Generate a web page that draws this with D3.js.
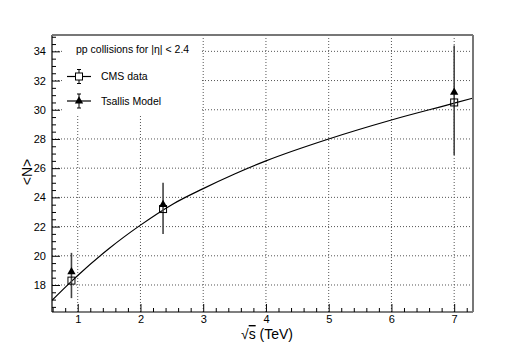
<!DOCTYPE html>
<html>
<head>
<meta charset="utf-8">
<script src="https://cdn.jsdelivr.net/npm/d3@7"></script>
<style>
  body { margin: 0; background: #fff; }
  text { font-family: "Liberation Sans Narrow", "Liberation Sans", Arial, sans-serif; fill: #000; }
</style>
</head>
<body>
<script>
// data
var energies = [0.9, 2.36, 7.0];
var cmsData = [18.3, 23.2, 30.5];
var tsallisModel = [18.9, 23.5, 31.2];
var errLow = [17.1, 21.5, 26.9];
var errHigh = [20.2, 25.0, 34.4];

// fitted curve, sampled by eye
var curveX = [0.59, 0.9, 1.0, 1.5, 2.0, 2.5, 3.0, 3.5, 4.0, 5.0, 6.0, 7.0, 7.3];
var curveY = [16.95, 18.25, 18.65, 20.5, 22.1, 23.5, 24.6, 25.6, 26.5, 28.0, 29.3, 30.45, 30.8];

var xTicks = [1, 2, 3, 4, 5, 6, 7];
var yTicks = [18, 20, 22, 24, 26, 28, 30, 32, 34];

var width = 526, height = 346;
var plotLeft = 52, plotRight = 473, plotTop = 35, plotBottom = 312;

var svg = d3.select("body").append("svg")
  .attr("width", width)
  .attr("height", height);

svg.append("rect").attr("width", width).attr("height", height).attr("fill", "#fff");

var x = d3.scaleLinear().domain([0.59, 7.3]).range([plotLeft, plotRight]);
var y = d3.scaleLinear().domain([16.15, 35.12]).range([plotBottom, plotTop]);

// grille pointillée
svg.append("g").selectAll("line").data(xTicks).enter().append("line")
  .attr("x1", d => x(d)).attr("x2", d => x(d))
  .attr("y1", plotTop).attr("y2", plotBottom)
  .attr("stroke", "#555").attr("stroke-width", 1).attr("stroke-dasharray", "1,2");
svg.append("g").selectAll("line").data(yTicks).enter().append("line")
  .attr("x1", plotLeft).attr("x2", plotRight)
  .attr("y1", d => y(d)).attr("y2", d => y(d))
  .attr("stroke", "#555").attr("stroke-width", 1).attr("stroke-dasharray", "1,2");

// axes (ticks naar binnen, ROOT-stijl)
var xMinor = d3.range(0.6, 7.3, 0.2).filter(v => Math.abs(v - Math.round(v)) > 0.01);
var yMinor = d3.range(16.5, 35.1, 0.5).filter(v => v % 2 != 0);

svg.append("g").attr("transform", "translate(0," + plotBottom + ")")
  .call(d3.axisBottom(x).tickValues(xMinor).tickSize(-4).tickFormat(""))
  .call(g => g.select(".domain").remove());
svg.append("g").attr("transform", "translate(" + plotLeft + ",0)")
  .call(d3.axisLeft(y).tickValues(yMinor).tickSize(-4).tickFormat(""))
  .call(g => g.select(".domain").remove());

var xAxis = svg.append("g").attr("transform", "translate(0," + plotBottom + ")")
  .call(d3.axisBottom(x).tickValues(xTicks).tickSize(-8).tickPadding(3).tickFormat(d3.format("d")));
var yAxis = svg.append("g").attr("transform", "translate(" + plotLeft + ",0)")
  .call(d3.axisLeft(y).tickValues(yTicks).tickSize(-8).tickPadding(6).tickFormat(d3.format("d")));

[xAxis, yAxis].forEach(function (g) {
  g.select(".domain").attr("stroke", "#000").attr("stroke-width", 1.2);
  g.selectAll(".tick text").style("font-size", "11px");
});
xAxis.select(".domain").attr("d", "M" + plotLeft + ",0H" + plotRight);
yAxis.select(".domain").attr("d", "M0," + plotBottom + "V" + plotTop);

// curve
svg.append("clipPath").attr("id", "clip").append("rect")
  .attr("x", plotLeft).attr("y", plotTop)
  .attr("width", plotRight - plotLeft).attr("height", plotBottom - plotTop);

var line = d3.line()
  .x(d => x(d[0]))
  .y(d => y(d[1]))
  .curve(d3.curveMonotoneX);

svg.append("path")
  .datum(curveX.map((v, i) => [v, curveY[i]]))
  .attr("clip-path", "url(#clip)")
  .attr("d", line)
  .attr("fill", "none")
  .attr("stroke", "#000")
  .attr("stroke-width", 1.2);

// error bars
svg.append("g").selectAll("line").data(energies).enter().append("line")
  .attr("x1", d => x(d)).attr("x2", d => x(d))
  .attr("y1", (d, i) => y(errLow[i])).attr("y2", (d, i) => y(errHigh[i]))
  .attr("stroke", "#444").attr("stroke-width", 1.6);

// Tsallis triangles
var tri = d3.symbol().type(d3.symbolTriangle).size(30);
svg.append("g").selectAll("path").data(energies).enter().append("path")
  .attr("transform", (d, i) => "translate(" + x(d) + "," + y(tsallisModel[i]) + ")")
  .attr("d", tri)
  .attr("fill", "#000");

// CMS squares
svg.append("g").selectAll("rect").data(energies).enter().append("rect")
  .attr("x", d => x(d) - 3.5)
  .attr("y", (d, i) => y(cmsData[i]) - 3.5)
  .attr("width", 7).attr("height", 7)
  .attr("fill", "none")
  .attr("stroke", "#000").attr("stroke-width", 1);

// legend (witte box zonder rand, verbergt het raster)
var legend = svg.append("g");
legend.append("rect")
  .attr("x", 63).attr("y", plotTop).attr("width", 137).attr("height", 80)
  .attr("fill", "#fff");
legend.append("text").attr("x", 76).attr("y", 52.5)
  .style("font-size", "10.5px")
  .text("pp collisions for |η| < 2.4");

var legendItems = ["CMS data", "Tsallis Model"];
var legendY = [76.5, 101];
legendItems.forEach(function (name, i) {
  var g = legend.append("g").attr("transform", "translate(0," + legendY[i] + ")");
  g.append("line").attr("x1", 67).attr("x2", 91).attr("y1", 0).attr("y2", 0)
    .attr("stroke", "#000").attr("stroke-width", 1.2);
  g.append("line").attr("x1", 79).attr("x2", 79).attr("y1", -7).attr("y2", 7)
    .attr("stroke", "#000").attr("stroke-width", 1);
  g.append("line").attr("x1", 77).attr("x2", 81).attr("y1", -7).attr("y2", -7).attr("stroke", "#000");
  g.append("line").attr("x1", 77).attr("x2", 81).attr("y1", 7).attr("y2", 7).attr("stroke", "#000");
  if (i == 0) {
    g.append("rect").attr("x", 75.5).attr("y", -3.5).attr("width", 7).attr("height", 7)
      .attr("fill", "#fff").attr("stroke", "#000");
  } else {
    g.append("path").attr("transform", "translate(79,0)").attr("d", tri).attr("fill", "#000");
  }
  g.append("text").attr("x", 101).attr("y", 0).attr("dy", "0.35em")
    .style("font-size", "10.5px").text(name);
});

// bovenste en rechter rand van het frame
svg.append("line").attr("x1", plotLeft).attr("x2", plotRight).attr("y1", plotTop).attr("y2", plotTop)
  .attr("stroke", "#777").attr("stroke-width", 2);
svg.append("line").attr("x1", plotRight).attr("x2", plotRight).attr("y1", plotTop).attr("y2", plotBottom)
  .attr("stroke", "#777").attr("stroke-width", 2);

// axis titles
var xTitle = svg.append("text").attr("x", 267).attr("y", 339)
  .attr("text-anchor", "middle").style("font-size", "14px");
xTitle.append("tspan").text("√");
xTitle.append("tspan").style("text-decoration", "overline").text("s");
xTitle.append("tspan").text(" (TeV)");

svg.append("text")
  .attr("transform", "translate(27,172) rotate(-90)")
  .attr("text-anchor", "middle").attr("dy", "0.35em")
  .style("font-size", "14px")
  .text("<N>");
</script>
</body>
</html>
